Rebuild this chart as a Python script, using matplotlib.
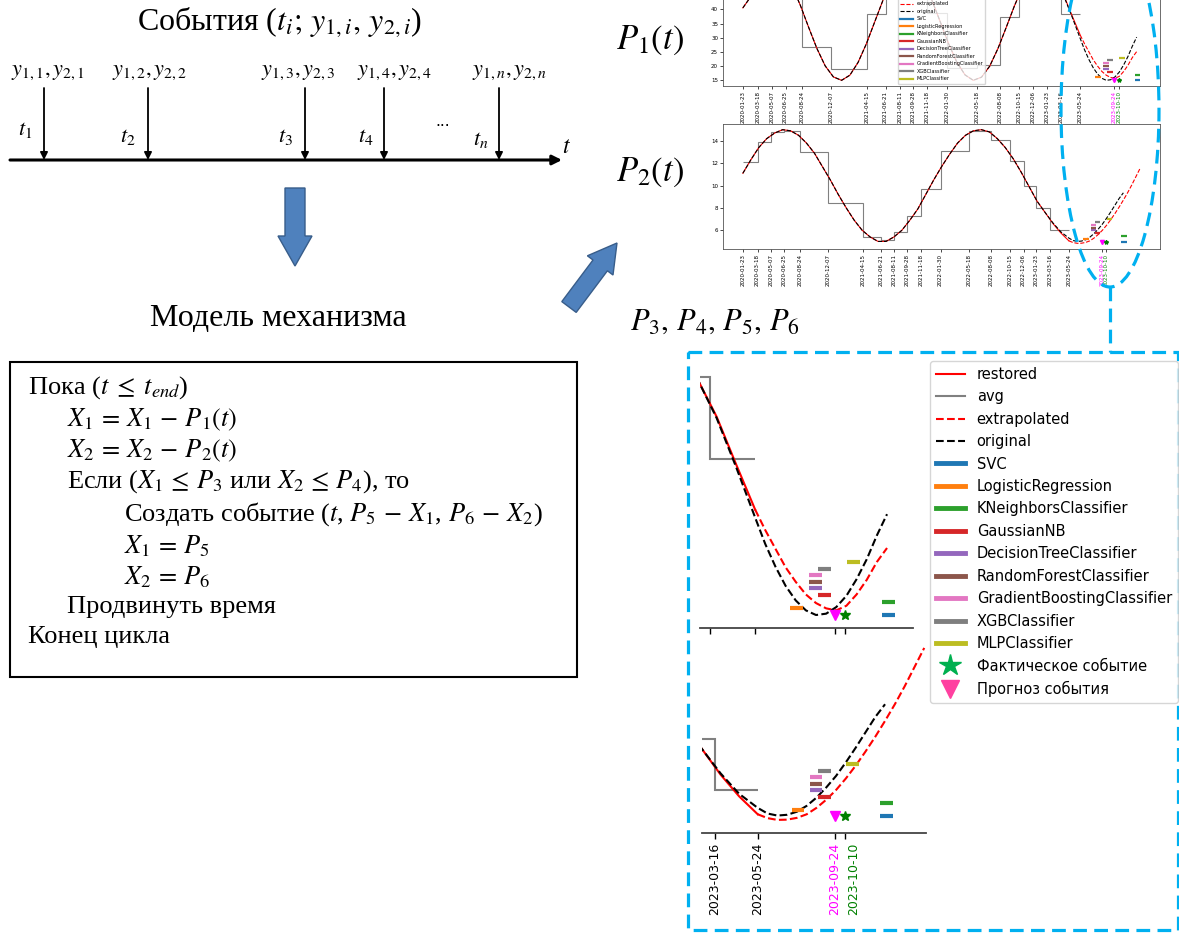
import matplotlib
matplotlib.use("Agg")
import matplotlib.pyplot as plt
import matplotlib.dates as mdates
import pandas as pd
from matplotlib.patches import FancyArrow, FancyArrowPatch, Rectangle, Ellipse
from matplotlib.lines import Line2D
from matplotlib.transforms import Affine2D, ScaledTranslation

plt.rcParams['mathtext.fontset'] = 'stix'

W, H = 1179, 933
SERIF = 'Liberation Serif'

# event dates: the average steps change at these dates
event_dates = pd.to_datetime([
    '2020-01-23', '2020-03-18', '2020-05-07', '2020-06-25', '2020-08-24',
    '2020-12-07', '2021-04-15', '2021-06-21', '2021-08-11', '2021-09-28',
    '2021-11-18', '2022-01-30', '2022-05-18', '2022-08-08', '2022-10-15',
    '2022-12-06', '2023-01-23', '2023-03-16', '2023-05-24'])

p1_avg = [46.0, 53.0, 54.2, 46.8, 26.6, 18.9, 38.5, 50.5, 54.7, 51.2,
          38.7, 19.5, 20.4, 37.2, 50.5, 54.7, 50.9, 38.5]
p2_avg = [12.1, 13.9, 14.8, 14.9, 13.0, 8.4, 5.4, 5.1, 5.8, 7.3,
          9.7, 13.1, 14.9, 14.1, 12.2, 10.0, 8.0, 6.0]

# sampling dates of the curves
hist_dates = pd.date_range('2020-01-23', '2023-05-24', periods=42)
fut_dates = pd.date_range('2023-05-24', '2024-02-14', periods=18)

p1_original = [40.5, 44.6, 50.5, 54.1, 54.9, 52.7, 48.0, 41.3, 33.6, 26.2,
               20.1, 16.2, 15.0, 16.8, 21.3, 27.8, 35.4, 43.0, 49.3, 53.5,
               55.0, 53.5, 49.2, 43.0, 35.5, 27.9, 21.4, 16.9, 15.0, 16.1,
               20.0, 26.2, 33.6, 41.2, 47.9, 52.7, 54.9, 54.1, 50.6, 44.7,
               37.4, 29.7]
p1_original_fut = [25.7, 22.3, 19.4, 17.2, 15.7, 15.0, 15.2, 16.2, 17.9,
                   20.4, 23.4, 27.0, 30.2]
p1_restored = [40.5, 44.6, 50.5, 54.1, 54.9, 52.7, 48.0, 41.3, 33.6, 26.2,
               20.1, 16.2, 15.0, 16.8, 21.3, 27.8, 35.4, 43.0, 49.3, 53.5,
               55.0, 53.5, 49.2, 43.0, 35.5, 27.9, 21.4, 16.9, 15.0, 16.1,
               20.0, 26.2, 33.6, 41.2, 47.9, 52.7, 54.9, 54.1, 50.6, 44.9,
               37.8, 30.9]
p1_extrapolated = [30.9, 27.8, 25.0, 22.2, 20.0, 18.1, 16.8, 16.0, 15.7,
                   16.4, 18.1, 20.3, 23.0, 25.1]

p2_original = [11.1, 12.3, 13.4, 14.2, 14.7, 15.0, 14.9, 14.5, 13.8, 12.9,
               11.7, 10.5, 9.2, 8.0, 6.9, 6.0, 5.4, 5.0, 5.0, 5.4,
               6.0, 6.9, 7.9, 9.2, 10.5, 11.7, 12.8, 13.8, 14.5, 14.9,
               15.0, 14.8, 14.2, 13.4, 12.4, 11.2, 9.9, 8.6, 7.6, 6.65,
               5.85, 5.3]
p2_original_fut = [5.08, 5.0, 5.03, 5.15, 5.38, 5.7, 6.1, 6.55, 7.08, 7.65,
                   8.25, 8.85, 9.35]
p2_restored = [11.1, 12.3, 13.4, 14.2, 14.7, 15.0, 14.9, 14.5, 13.8, 12.9,
               11.7, 10.5, 9.2, 8.0, 6.9, 6.0, 5.4, 5.0, 5.0, 5.4,
               6.0, 6.9, 7.9, 9.2, 10.5, 11.7, 12.8, 13.8, 14.5, 14.9,
               15.0, 14.8, 14.2, 13.4, 12.4, 11.2, 9.9, 8.6, 7.6, 6.6,
               5.75, 5.05]
p2_extrapolated = [5.05, 4.9, 4.83, 4.84, 4.91, 5.05, 5.3, 5.62, 6.0, 6.45,
                   6.95, 7.5, 8.08, 8.7, 9.35, 10.05, 10.8, 11.55]

# classifier predictions of the next event
clf_names = ['SVC', 'LogisticRegression', 'KNeighborsClassifier', 'GaussianNB',
             'DecisionTreeClassifier', 'RandomForestClassifier',
             'GradientBoostingClassifier', 'XGBClassifier', 'MLPClassifier']
clf_colors = ['tab:blue', 'tab:orange', 'tab:green', 'tab:red', 'tab:purple',
              'tab:brown', 'tab:pink', 'tab:gray', 'tab:olive']
clf_dates = pd.to_datetime(['2023-12-16', '2023-07-27', '2023-12-16', '2023-09-08',
                            '2023-08-25', '2023-08-25', '2023-08-25', '2023-09-08',
                            '2023-10-22'])
pred_date = pd.Timestamp('2023-09-24')
actual_date = pd.Timestamp('2023-10-10')

# level of the lowest classifier bar and spacing of the stack, per chart
p1_stack = (15.0, 1.0)
p2_stack = (4.97, 0.255)

fig = plt.figure(figsize=(W / 100, H / 100), dpi=100)
fig.patch.set_facecolor('white')
# pixel coordinates, origin at top-left like the reference picture
px = Affine2D().scale(1 / W, -1 / H).translate(0, 1) + fig.transFigure


def num(d):
    return mdates.date2num(pd.to_datetime(d))


def shift_px(dx):
    return ScaledTranslation(dx / 100, 0, fig.dpi_scale_trans)


def draw_series(ax, restored, orig, orig_fut, extrap, avg, stack, lw, bar_lw, ms):
    ax.plot(num(hist_dates), restored, color='red', lw=lw)
    ax.stairs(avg, num(event_dates), baseline=None, color='gray', lw=lw)
    ax.plot(num(fut_dates[:len(extrap)]), extrap, color='red', ls='--', lw=lw)
    ax.plot(list(num(hist_dates)) + list(num(fut_dates[1:len(orig_fut) + 1])),
            orig + orig_fut, color='black', ls='--', lw=lw)
    base, step = stack
    for i, (d, c) in enumerate(zip(clf_dates, clf_colors)):
        x = num(d)
        ax.hlines(base + i * step, x - 10, x + 10, colors=c, lw=bar_lw)
    ax.plot(num(pred_date), base, marker='v', color='magenta', ms=ms, ls='none')
    ax.plot(num(actual_date), base, marker='*', color='green', ms=ms, ls='none')


# ---- small charts (top right) ----
tick_dates = list(event_dates) + [pred_date, actual_date]
tick_colors = ['black'] * len(event_dates) + ['magenta', 'green']

ax1 = fig.add_axes([723 / W, 1 - 86 / H, 437 / W, 125 / H])
ax2 = fig.add_axes([723 / W, 1 - 249 / H, 437 / W, 125 / H])
draw_series(ax1, p1_restored, p1_original, p1_original_fut, p1_extrapolated,
            p1_avg, p1_stack, 0.8, 1.6, 3)
draw_series(ax2, p2_restored, p2_original, p2_original_fut, p2_extrapolated,
            p2_avg, p2_stack, 0.8, 1.6, 3)
ax1.set_yticks([15, 20, 25, 30, 35, 40])
ax2.set_yticks([6, 8, 10, 12, 14])
for ax in (ax1, ax2):
    ax.set_xticks(num(tick_dates))
    ax.set_xticklabels([d.strftime('%Y-%m-%d') for d in tick_dates], rotation=90)
    for lab, c in zip(ax.get_xticklabels(), tick_colors):
        lab.set_color(c)
        if c == 'green':
            lab.set_transform(lab.get_transform() + shift_px(6))
    ax.tick_params(labelsize=4, length=2, width=0.5, pad=1.5)
    for s in ax.spines.values():
        s.set_linewidth(0.6)
        s.set_color('#555555')

small_handles = [Line2D([], [], color='red', lw=0.8, label='restored'),
                 Line2D([], [], color='gray', lw=0.8, label='avg'),
                 Line2D([], [], color='red', ls='--', lw=0.8, label='extrapolated'),
                 Line2D([], [], color='black', ls='--', lw=0.8, label='original')]
small_handles += [Line2D([], [], color=c, lw=1.6, label=n)
                  for n, c in zip(clf_names, clf_colors)]
ax1.legend(handles=small_handles, loc='lower center', fontsize=3.6,
           handlelength=2.6, labelspacing=0.5)

# ---- detail panels (bottom right) ----
axd1 = fig.add_axes([700 / W, 1 - 628 / H, 212.7 / W, 273 / H])
axd2 = fig.add_axes([702 / W, 1 - 832.7 / H, 223.5 / W, 192.7 / H])
draw_series(axd1, p1_restored, p1_original, p1_original_fut, p1_extrapolated,
            p1_avg, p1_stack, 1.5, 3, 7)
draw_series(axd2, p2_restored, p2_original, p2_original_fut, p2_extrapolated,
            p2_avg, p2_stack, 1.5, 3, 7)
axd1.set_xlim(num('2023-02-28'), num('2024-01-22'))
axd1.set_ylim(13.04, 54.2)
axd2.set_xlim(num('2023-02-24'), num('2024-02-16'))
axd2.set_ylim(4.33, 11.86)
detail_ticks = [event_dates[-2], event_dates[-1], pred_date, actual_date]
detail_colors = ['black', 'black', 'magenta', 'green']
for ax in (axd1, axd2):
    for side in ('left', 'top', 'right'):
        ax.spines[side].set_visible(False)
    ax.spines['bottom'].set_color('#444444')
    ax.spines['bottom'].set_linewidth(1.3)
    ax.set_yticks([])
    ax.set_xticks(num(detail_ticks))
    ax.tick_params(axis='x', length=4, width=1, labelsize=9)
    ax.patch.set_alpha(0)
axd1.set_xticklabels([])
axd2.set_xticklabels([d.strftime('%Y-%m-%d') for d in detail_ticks], rotation=90)
for ax in (axd1, axd2):
    for tick, c in zip(ax.xaxis.get_major_ticks(), detail_colors):
        tick.label1.set_color(c)
        if c == 'green':
            tick.tick1line.set_color(c)
            tick.label1.set_transform(tick.label1.get_transform() + shift_px(9))

big_handles = [Line2D([], [], color='red', lw=1.5, label='restored'),
               Line2D([], [], color='gray', lw=1.5, label='avg'),
               Line2D([], [], color='red', ls='--', lw=1.5, label='extrapolated'),
               Line2D([], [], color='black', ls='--', lw=1.5, label='original')]
big_handles += [Line2D([], [], color=c, lw=3.5, label=n)
                for n, c in zip(clf_names, clf_colors)]
big_handles += [Line2D([], [], color='#00B050', marker='*', ms=16, ls='none',
                       label='Фактическое событие'),
                Line2D([], [], color='#FF40A0', marker='v', ms=13, ls='none',
                       label='Прогноз события')]
fig.legend(handles=big_handles, loc='upper left', bbox_to_anchor=(930 / W, 1 - 361 / H),
           fontsize=10.5, handlelength=2.0, labelspacing=0.51, handletextpad=0.8,
           borderaxespad=0)

# ---- blue dashed callout ----
blue = '#00B0F0'
dash = (0, (4.3, 2.3))
fig.add_artist(Ellipse((1110, 110), 98, 354, transform=px, fill=False,
                       ec=blue, lw=2.3, ls=dash))
fig.add_artist(Line2D([1110, 1110], [287, 352], transform=px, color=blue, lw=2.3, ls=dash))
fig.add_artist(Rectangle((688, 352), 490, 578, transform=px, fill=False,
                         ec=blue, lw=2.3, ls=dash))

# ---- events timeline (top left) ----
fig.text(279, 22, 'События ($t_i;\\, y_{1,i},\\, y_{2,i}$)', transform=px, family=SERIF,
         fontsize=23, ha='center', va='center')
fig.add_artist(FancyArrowPatch((10, 160), (562, 160), transform=px, arrowstyle='-|>',
                               mutation_scale=14, lw=2.2, color='black',
                               shrinkA=0, shrinkB=0))
fig.text(567, 146, '$t$', transform=px, fontsize=17, ha='center', va='center')
arrow_x = [44, 148, 305, 384, 499]
event_labels = ['$y_{1,1}, y_{2,1}$', '$y_{1,2}, y_{2,2}$', '$y_{1,3}, y_{2,3}$',
                '$y_{1,4}, y_{2,4}$', '$y_{1,n}, y_{2,n}$']
label_x = [48, 150, 298, 395, 510]
t_labels = ['$t_1$', '$t_2$', '$t_3$', '$t_4$', '$t_n$']
t_pos = [(25, 130), (128, 137), (285, 137), (366, 137), (481, 140)]
for x, lab, lx, tl, tp in zip(arrow_x, event_labels, label_x, t_labels, t_pos):
    fig.add_artist(FancyArrowPatch((x, 88), (x, 160), transform=px, arrowstyle='-|>',
                                   mutation_scale=11, lw=1.3, color='black',
                                   shrinkA=0, shrinkB=0))
    fig.text(lx, 72, lab, transform=px, fontsize=16, ha='center', va='center')
    fig.text(tp[0], tp[1], tl, transform=px, fontsize=16, ha='center', va='center')
fig.text(443, 122, '...', transform=px, fontsize=11, ha='center', va='center')

# ---- block arrows ----
fig.add_artist(FancyArrow(295, 188, 0, 78, width=20, head_width=34, head_length=30,
                          length_includes_head=True, transform=px,
                          fc='#4F81BD', ec='#385D8A', lw=1))
fig.add_artist(FancyArrow(569, 307, 48, -64, width=18, head_width=32, head_length=28,
                          length_includes_head=True, transform=px,
                          fc='#4F81BD', ec='#385D8A', lw=1))

fig.text(278, 318, 'Модель механизма', transform=px, family=SERIF, fontsize=23,
         ha='center', va='center')
fig.text(650, 40, '$P_1(t)$', transform=px, fontsize=25, ha='center', va='center')
fig.text(650, 172, '$P_2(t)$', transform=px, fontsize=25, ha='center', va='center')
fig.text(630, 322, '$P_3,\\, P_4,\\, P_5,\\, P_6$', transform=px, fontsize=22,
         ha='left', va='center')

# ---- algorithm box ----
fig.add_artist(Rectangle((10, 362), 567, 315, transform=px, fill=False, ec='black', lw=1.5))
algo_lines = [
    (28, 388, 'Пока ($t\\;\\leq\\;t_{end}$)'),
    (67, 420, '$X_1\\,=\\,X_1\\,-\\,P_1(t)$'),
    (67, 451, '$X_2\\,=\\,X_2\\,-\\,P_2(t)$'),
    (67, 482, 'Если ($X_1\\,\\leq\\,P_3$ или $X_2\\,\\leq\\,P_4$), то'),
    (124, 514, 'Создать событие ($t$, $P_5\\,-\\,X_1$, $P_6\\,-\\,X_2$)'),
    (124, 546, '$X_1\\,=\\,P_5$'),
    (124, 577, '$X_2\\,=\\,P_6$'),
    (67, 607, 'Продвинуть время'),
    (28, 637, 'Конец цикла'),
]
for x, y, s in algo_lines:
    fig.text(x, y, s, transform=px, family=SERIF, fontsize=19, ha='left', va='center')

fig.savefig('out.png', dpi=100)
